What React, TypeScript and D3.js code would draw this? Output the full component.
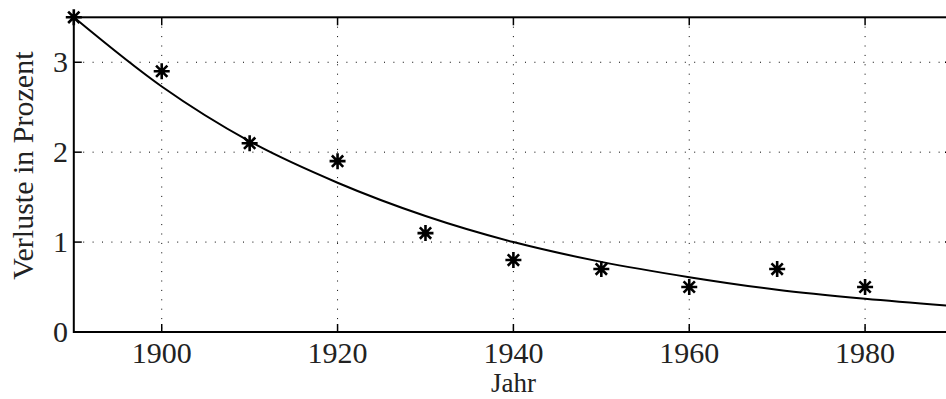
import { useEffect, useRef } from 'react';
import * as d3 from 'd3';

// measured points
const years = [1890, 1900, 1910, 1920, 1930, 1940, 1950, 1960, 1970, 1980];
const losses = [3.5, 2.9, 2.1, 1.9, 1.1, 0.8, 0.7, 0.5, 0.7, 0.5];

// fitted curve
const fitYears = [1890, 1900, 1910, 1920, 1930, 1940, 1950, 1960, 1970, 1980, 1990];
const fitValues = [3.5, 2.73, 2.12, 1.66, 1.29, 1.0, 0.78, 0.61, 0.47, 0.37, 0.29];

const xTicks = [1900, 1920, 1940, 1960, 1980];
const yTicks = [0, 1, 2, 3];

const W = 946;
const H = 399;
const FONT = '"Liberation Serif", "Times New Roman", serif';

export default function App() {
  const svgRef = useRef<SVGSVGElement>(null);

  useEffect(() => {
    if (!svgRef.current) return;
    const svg = d3.select(svgRef.current);
    svg.selectAll('*').remove();

    const left = 73.8, right = 953, top = 17.3, bottom = 332;
    const x = d3.scaleLinear().domain([1890, 1990]).range([left, right]);
    const y = d3.scaleLinear().domain([0, 3.5]).range([bottom, top]);

    const g = svg.append('g');

    // dotted grid
    g.selectAll('line.gx')
      .data(xTicks)
      .join('line')
      .attr('x1', (d) => x(d)).attr('x2', (d) => x(d))
      .attr('y1', top).attr('y2', bottom)
      .attr('stroke', '#000').attr('stroke-width', 1)
      .attr('stroke-dasharray', '1 8.4');
    g.selectAll('line.gy')
      .data(yTicks.filter((d) => d > 0))
      .join('line')
      .attr('x1', left).attr('x2', right)
      .attr('y1', (d) => y(d)).attr('y2', (d) => y(d))
      .attr('stroke', '#000').attr('stroke-width', 1)
      .attr('stroke-dasharray', '1 8.4');

    // ticks (inward, on all four sides)
    const tl = 8;
    xTicks.forEach((t) => {
      g.append('line').attr('x1', x(t)).attr('x2', x(t)).attr('y1', bottom).attr('y2', bottom - tl)
        .attr('stroke', '#000').attr('stroke-width', 1.5);
      g.append('line').attr('x1', x(t)).attr('x2', x(t)).attr('y1', top).attr('y2', top + tl)
        .attr('stroke', '#000').attr('stroke-width', 1.5);
    });
    yTicks.forEach((t) => {
      g.append('line').attr('x1', left).attr('x2', left + tl).attr('y1', y(t)).attr('y2', y(t))
        .attr('stroke', '#000').attr('stroke-width', 1.5);
      g.append('line').attr('x1', right).attr('x2', right - tl).attr('y1', y(t)).attr('y2', y(t))
        .attr('stroke', '#000').attr('stroke-width', 1.5);
    });

    // frame
    g.append('rect')
      .attr('x', left).attr('y', top)
      .attr('width', right - left).attr('height', bottom - top)
      .attr('fill', 'none').attr('stroke', '#000').attr('stroke-width', 2);

    // fitted curve
    const line = d3.line<number>()
      .x((_, i) => x(fitYears[i]))
      .y((d) => y(d))
      .curve(d3.curveMonotoneX);
    g.append('path')
      .attr('d', line(fitValues))
      .attr('fill', 'none').attr('stroke', '#000').attr('stroke-width', 2);

    // asterisk markers
    const r = 8;
    const d45 = r * Math.SQRT1_2;
    const star = `M${-r},0L${r},0M0,${-r}L0,${r}M${-d45},${-d45}L${d45},${d45}M${-d45},${d45}L${d45},${-d45}`;
    g.selectAll('path.pt')
      .data(years)
      .join('path')
      .attr('class', 'pt')
      .attr('transform', (d, i) => `translate(${x(d)},${y(losses[i])})`)
      .attr('d', star)
      .attr('stroke', '#000').attr('stroke-width', 2.6).attr('fill', 'none');

    // tick labels
    g.selectAll('text.xt')
      .data(xTicks)
      .join('text')
      .attr('class', 'xt')
      .attr('x', (d) => x(d)).attr('y', 363)
      .attr('text-anchor', 'middle')
      .attr('font-family', FONT).attr('font-size', 30).attr('fill', '#222')
      .text((d) => d);
    g.selectAll('text.yt')
      .data(yTicks)
      .join('text')
      .attr('class', 'yt')
      .attr('x', 68).attr('y', (d) => y(d) + 10)
      .attr('text-anchor', 'end')
      .attr('font-family', FONT).attr('font-size', 30).attr('fill', '#222')
      .text((d) => d);

    // axis titles
    g.append('text')
      .attr('x', x(1940)).attr('y', 392)
      .attr('text-anchor', 'middle')
      .attr('font-family', FONT).attr('font-size', 27).attr('fill', '#222')
      .text('Jahr');
    g.append('text')
      .attr('transform', `translate(33,${(top + bottom) / 2 - 9}) rotate(-90)`)
      .attr('text-anchor', 'middle')
      .attr('font-family', FONT).attr('font-size', 30).attr('fill', '#222')
      .text('Verluste in Prozent');
  }, []);

  return (
    <svg
      ref={svgRef}
      width={W}
      height={H}
      style={{ position: 'fixed', left: 0, top: 0, background: '#fff', overflow: 'hidden' }}
    />
  );
}
